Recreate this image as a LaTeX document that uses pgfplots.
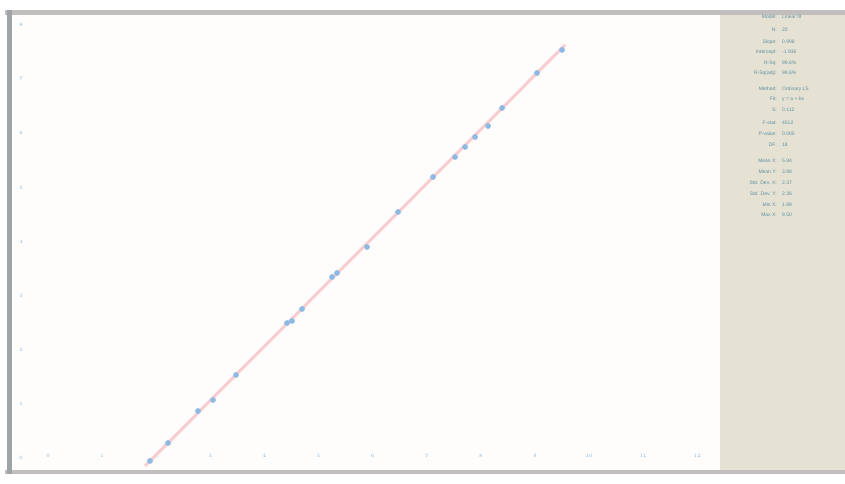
\documentclass[border=0pt]{standalone}
\usepackage{pgfplots}
\pgfplotsset{compat=1.18}
\usepackage{fontspec}
\setmainfont{Liberation Sans}
\definecolor{frameL}{HTML}{9EA3A8}
\definecolor{frameT}{HTML}{C2BEBE}
\definecolor{panel}{HTML}{E5E2D3}
\definecolor{ptblue}{HTML}{8DB9E2}
\definecolor{fitpink}{HTML}{F7CDD2}
\definecolor{ticktxt}{HTML}{7EB2D8}
\definecolor{stattxt}{HTML}{5F90A2}
\definecolor{bgw}{HTML}{FFFDFB}
\begin{document}
\begin{tikzpicture}[x=1bp,y=1bp]
\path[use as bounding box] (0,0) rectangle (845,484);
\fill[bgw] (12,14) rectangle (720,470);
\fill[panel] (720,14) rectangle (845,470);
\begin{axis}[
  at={(12bp,14bp)}, anchor=south west,
  scale only axis, width=708bp, height=456bp,
  xmin=-0.665, xmax=12.42, ymin=-0.222, ymax=8.207,
  axis line style={draw=none},
  xtick={0,1,...,12}, ytick={0,1,...,8},
  major tick length=0pt,
  tick label style={font=\fontsize{5}{6}\selectfont, text=ticktxt},
  xticklabel style={anchor=center, yshift=14bp},
  yticklabel style={anchor=center, xshift=9bp},
  clip=false,
]
\addplot[fitpink, line width=3bp] coordinates {(1.793,-0.148) (9.556,7.634)};
\addplot[only marks, color=ptblue, mark=*, mark size=2.6bp, mark options={fill=ptblue, draw=ptblue}] coordinates {
(1.885,-0.055) (2.218,0.277) (2.773,0.869) (3.050,1.072) (3.475,1.534)
(4.418,2.495) (4.510,2.532) (4.695,2.754) (5.250,3.346) (5.342,3.420)
(5.896,3.900) (6.470,4.547) (7.116,5.194) (7.523,5.564) (7.708,5.749)
(7.893,5.933) (8.133,6.137) (8.392,6.470) (9.039,7.116) (9.501,7.542)
};
\end{axis}
% frame
\fill[frameT] (5,469) rectangle (845,474);
\fill[frameT] (5,10) rectangle (845,14);
\fill[frameL] (7,10) rectangle (12,474);
% statistics panel
\begin{scope}[font=\fontsize{5}{6}\selectfont, text=stattxt]
\foreach \py/\lab/\val in {
 17/Model:/Linear fit, 30/N:/20, 42/Slope:/0.998, 52/Intercept:/-1.936, 63/R-Sq:/99.6\%, 73/R-Sq(adj):/99.6\%,
 89/Method:/Ordinary LS, 99/Fit:/y = a + bx, 110/S:/0.112, 123/F-stat:/4512, 134/P-value:/0.000, 145/DF:/18,
 161/Mean X:/5.84, 172/Mean Y:/3.88, 183/Std. Dev. X:/2.37, 194/Std. Dev. Y:/2.36, 205/Min X:/1.89, 215/Max X:/9.50}
 {
  \node[anchor=east, inner sep=0pt] at (777,484-\py) {\lab};
  \node[anchor=west, inner sep=0pt] at (782,484-\py) {\val};
 }
\end{scope}
\end{tikzpicture}
\end{document}
